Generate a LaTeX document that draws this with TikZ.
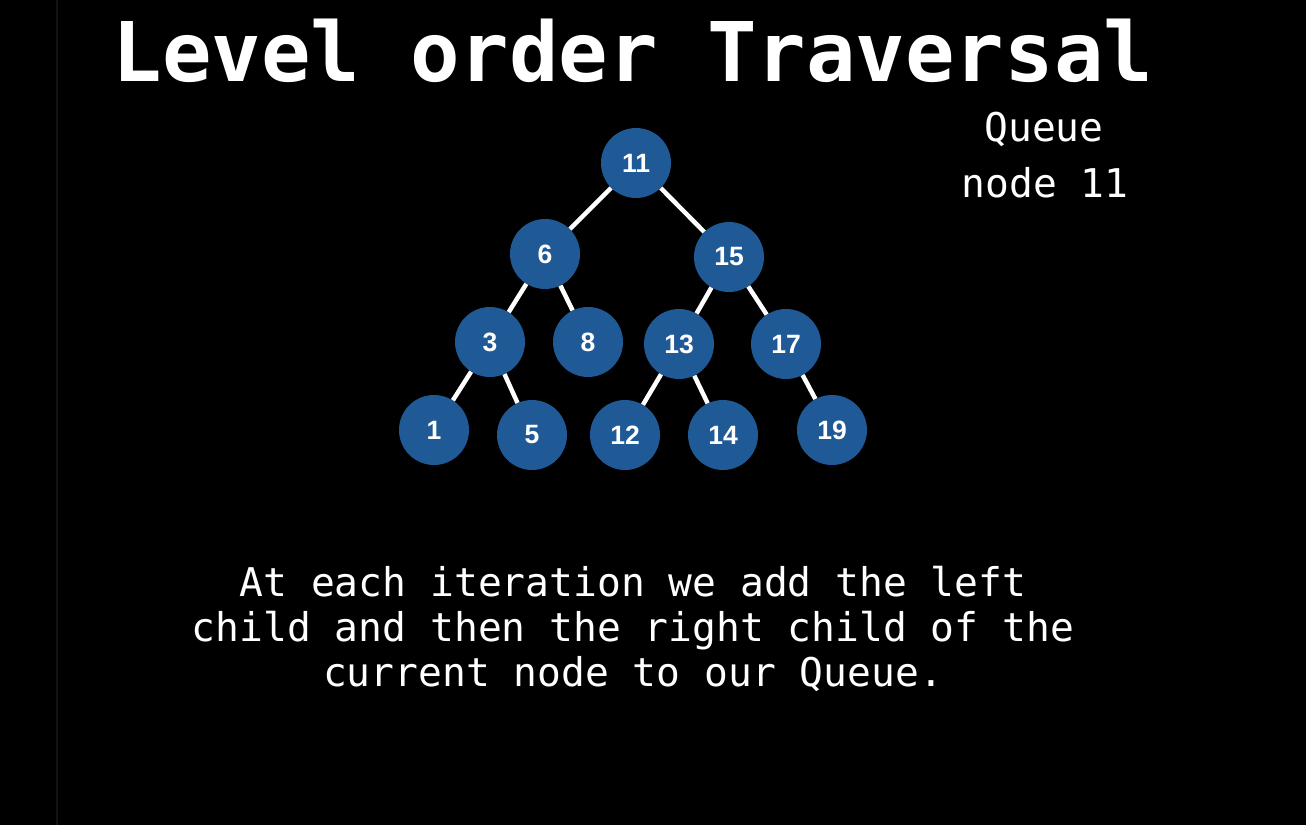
\documentclass[tikz,border=0pt]{standalone}
\usepackage{fontspec}
\setmainfont{Liberation Sans}
\newfontfamily\monofont{DejaVu Sans Mono}
\definecolor{nodeblue}{RGB}{31,90,150}
\definecolor{edgeline}{RGB}{18,18,18}
\begin{document}
\begin{tikzpicture}[x=1pt,y=1pt,
  tnode/.style={circle, fill=nodeblue, minimum size=70pt, inner sep=0pt, text=white,
    font=\fontsize{26.5}{26.5}\selectfont\bfseries},
  tedge/.style={draw=white, line width=4.5pt},
  monotxt/.style={text=white, inner sep=0pt, anchor=base, font=\monofont\fontsize{39.6}{39.6}\selectfont}]
\fill[black] (0,0) rectangle (1306,-825);
\useasboundingbox (0,0) rectangle (1306,-825);
\draw[edgeline, line width=1.5pt] (57,0) -- (57,-825);
% title
\node[text=white, inner sep=0pt, anchor=base, font=\monofont\bfseries\fontsize{82.3}{82.3}\selectfont] (title) at (633,-81) {Level order Traversal};
% queue
\node[monotxt] (qlabel) at (1044,-141) {Queue};
\node[monotxt] (qitem) at (1045,-197) {node 11};
% tree nodes
\node[tnode] (n11) at (636,-163) {11};
\node[tnode] (n6) at (545,-254) {6};
\node[tnode] (n15) at (729,-257) {15};
\node[tnode] (n3) at (490,-342) {3};
\node[tnode] (n8) at (588,-342) {8};
\node[tnode] (n13) at (679,-344) {13};
\node[tnode] (n17) at (786,-344) {17};
\node[tnode] (n1) at (434,-430) {1};
\node[tnode] (n5) at (532,-435) {5};
\node[tnode] (n12) at (625,-435) {12};
\node[tnode] (n14) at (723,-435) {14};
\node[tnode] (n19) at (832,-430) {19};
% edges
\draw[tedge] (n11) -- (n6);
\draw[tedge] (n11) -- (n15);
\draw[tedge] (n6) -- (n3);
\draw[tedge] (n6) -- (n8);
\draw[tedge] (n15) -- (n13);
\draw[tedge] (n15) -- (n17);
\draw[tedge] (n3) -- (n1);
\draw[tedge] (n3) -- (n5);
\draw[tedge] (n13) -- (n12);
\draw[tedge] (n13) -- (n14);
\draw[tedge] (n17) -- (n19);
% caption
\node[monotxt] (cap1) at (633,-596) {At each iteration we add the left};
\node[monotxt] (cap2) at (633,-641) {child and then the right child of the};
\node[monotxt] (cap3) at (633,-686) {current node to our Queue.};
\end{tikzpicture}
\end{document}
